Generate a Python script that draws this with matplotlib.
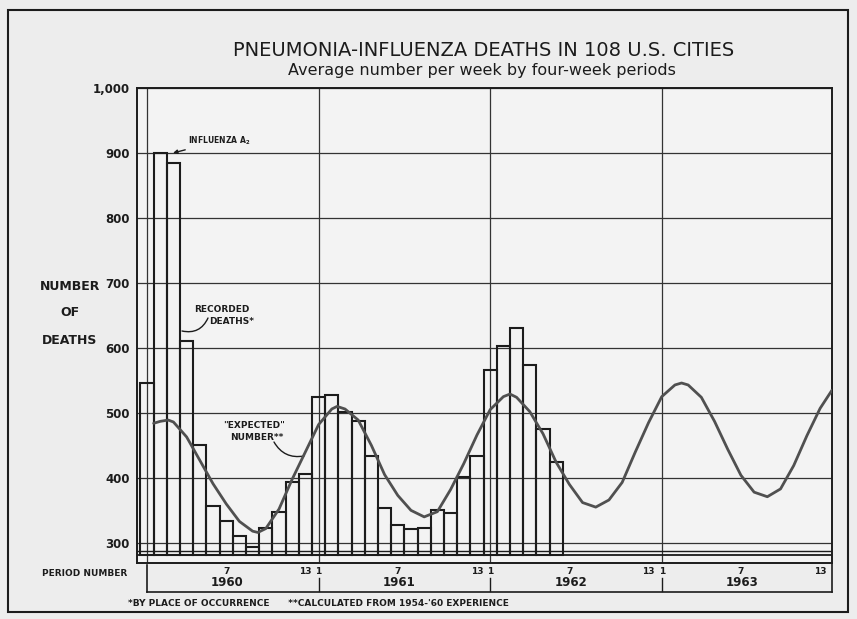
import matplotlib.pyplot as plt
import numpy as np
from matplotlib.patches import Rectangle

years = ['1960', '1961', '1962', '1963']
n_per = 13

# recorded deaths per week, 1960 period 1 .. 1962 period 6
recorded = [546, 900, 884, 610, 451, 357, 334, 310, 294, 323, 347, 394, 406,
            524, 528, 502, 487, 433, 353, 328, 321, 323, 351, 346, 402, 434,
            566, 603, 630, 574, 475, 424]

expected_x = [0.5, 1, 1.6, 2, 3, 4, 5, 6, 7, 8, 8.4, 9, 10, 11, 12, 13, 14, 14.4,
              15, 16, 17, 18, 19, 20, 21, 22, 23, 24, 25, 26, 27, 27.5, 28, 29,
              30, 31, 32, 33, 34, 35, 36, 37, 38, 39, 40, 40.5, 41, 42, 43, 44,
              45, 46, 47, 48, 49, 50, 51, 51.9]
expected = [484, 487, 489, 486, 463, 427, 391, 360, 333, 318, 316, 322, 352, 398,
            440, 482, 506, 510, 506, 489, 450, 405, 373, 350, 340, 348, 382, 422,
            466, 505, 525, 529, 524, 502, 468, 424, 390, 362, 355, 366, 393, 440,
            485, 525, 543, 546, 543, 524, 487, 444, 404, 378, 371, 383, 419, 465,
            507, 535]

yticks = [300, 400, 500, 600, 700, 800, 900, 1000]
ytick_labels = ['300', '400', '500', '600', '700', '800', '900', '1,000']

ink = '#1c1c1c'
paper = '#ededed'

fig = plt.figure(figsize=(8.57, 6.19), dpi=100)
fig.patch.set_facecolor(paper)

# axes placed to match the scan: x 137..832 px, y 88..563 px
ax = fig.add_axes([137 / 857, 1 - 563 / 619, 695 / 857, 475 / 619])
ax.set_facecolor('#f3f3f3')
ax.set_xlim(-0.76, 51.9)
ax.set_ylim(269, 1000)

for v in yticks:
    ax.axhline(v, color='#333333', lw=0.9, zorder=1)
for k in range(len(years)):
    ax.axvline(k * n_per, color='#333333', lw=0.9, zorder=1)

# broken-axis lines under 300
ax.axhline(288, color=ink, lw=1.0, zorder=1)
ax.axhline(282, color=ink, lw=1.3, zorder=1)

base = 282
x_bars = np.arange(len(recorded))
ax.bar(x_bars, np.array(recorded) - base, bottom=base, width=1.0, fill=False,
       edgecolor=ink, linewidth=1.5, zorder=3)

ax.plot(expected_x, expected, color='#505050', lw=2.0, zorder=4,
        solid_capstyle='round', solid_joinstyle='round')

ax.set_xticks([])
ax.set_yticks(yticks)
ax.set_yticklabels(ytick_labels, fontsize=8.5, fontweight='bold', color=ink)
ax.tick_params(axis='y', length=0, pad=5)
for s in ax.spines.values():
    s.set_color(ink)
    s.set_linewidth(1.4)

# period number strip below the axes
tr = ax.get_xaxis_transform()

def ya(py):
    return (563 - py) / 475

ax.plot([0, 0], [ya(565), ya(592)], color=ink, lw=1.2, transform=tr, clip_on=False)
ax.plot([0, 51.9], [ya(592), ya(592)], color=ink, lw=1.2, transform=tr, clip_on=False)
ax.plot([51.9, 51.9], [ya(563), ya(592)], color=ink, lw=1.2, transform=tr, clip_on=False)
for k, yr in enumerate(years):
    p0 = k * n_per
    ax.text(p0 + 6, ya(572), '7', ha='center', va='center', fontsize=6.5,
            fontweight='bold', color=ink, transform=tr)
    ax.text(p0 + 12, ya(572), '13', ha='center', va='center', fontsize=6.5,
            fontweight='bold', color=ink, transform=tr)
    ax.text(p0 + 6.1, ya(583), yr, ha='center', va='center', fontsize=8.5,
            fontweight='bold', color=ink, transform=tr)
    if k > 0:
        ax.text(p0, ya(572), '1', ha='center', va='center', fontsize=6.5,
                fontweight='bold', color=ink, transform=tr)
        ax.plot([p0, p0], [ya(578), ya(591)], color=ink, lw=1.0, transform=tr,
                clip_on=False)

fig.text(85 / 857, 1 - 573 / 619, 'PERIOD NUMBER', ha='center', va='center',
         fontsize=6.5, fontweight='bold', color=ink)

# titles
fig.text(484 / 857, 1 - 50 / 619, 'PNEUMONIA-INFLUENZA DEATHS IN 108 U.S. CITIES',
         ha='center', va='center', fontsize=14, color=ink)
fig.text(482 / 857, 1 - 71 / 619, 'Average number per week by four-week periods',
         ha='center', va='center', fontsize=11.5, color=ink)

for txt, py in [('NUMBER', 286), ('OF', 313), ('DEATHS', 341)]:
    fig.text(70 / 857, 1 - py / 619, txt, ha='center', va='center',
             fontsize=9, fontweight='bold', color=ink)

# annotations (figure pixel positions measured from the top)
def fp(x, y):
    return (x, 619 - y)

ax.annotate(r'INFLUENZA A$_\mathbf{2}$', xy=fp(173, 153), xycoords='figure pixels',
            xytext=fp(188, 141), textcoords='figure pixels', ha='left', va='center',
            fontsize=5.5, fontweight='bold', color=ink,
            arrowprops=dict(arrowstyle='-|>', color=ink, lw=1.0, mutation_scale=6,
                            shrinkA=0, shrinkB=0))

fig.text(222 / 857, 1 - 310 / 619, 'RECORDED', ha='center', va='center',
         fontsize=6.5, fontweight='bold', color=ink)
fig.text(232 / 857, 1 - 322 / 619, 'DEATHS*', ha='center', va='center',
         fontsize=6.5, fontweight='bold', color=ink)
ax.annotate('', xy=fp(182, 331), xycoords='figure pixels', xytext=fp(208, 318),
            textcoords='figure pixels',
            arrowprops=dict(arrowstyle='-', color=ink, lw=1.0,
                            connectionstyle='arc3,rad=-0.4', shrinkA=0, shrinkB=0))

fig.text(254 / 857, 1 - 425 / 619, '"EXPECTED"', ha='center', va='center',
         fontsize=6.5, fontweight='bold', color=ink)
fig.text(257 / 857, 1 - 438 / 619, 'NUMBER**', ha='center', va='center',
         fontsize=6.5, fontweight='bold', color=ink)
ax.annotate('', xy=fp(304, 456), xycoords='figure pixels', xytext=fp(274, 442),
            textcoords='figure pixels',
            arrowprops=dict(arrowstyle='-', color=ink, lw=1.0,
                            connectionstyle='arc3,rad=0.35', shrinkA=0, shrinkB=0))

fig.text(128 / 857, 1 - 603 / 619,
         '*BY PLACE OF OCCURRENCE      **CALCULATED FROM 1954-\'60 EXPERIENCE',
         ha='left', va='center', fontsize=6.5, fontweight='bold', color=ink)

# outer frame of the figure
fig.patches.append(Rectangle((8 / 857, 1 - 612 / 619), 840 / 857, 602 / 619,
                             transform=fig.transFigure, fill=False, lw=1.5,
                             edgecolor=ink))

fig.savefig('out.png', dpi=100, facecolor=fig.get_facecolor())
